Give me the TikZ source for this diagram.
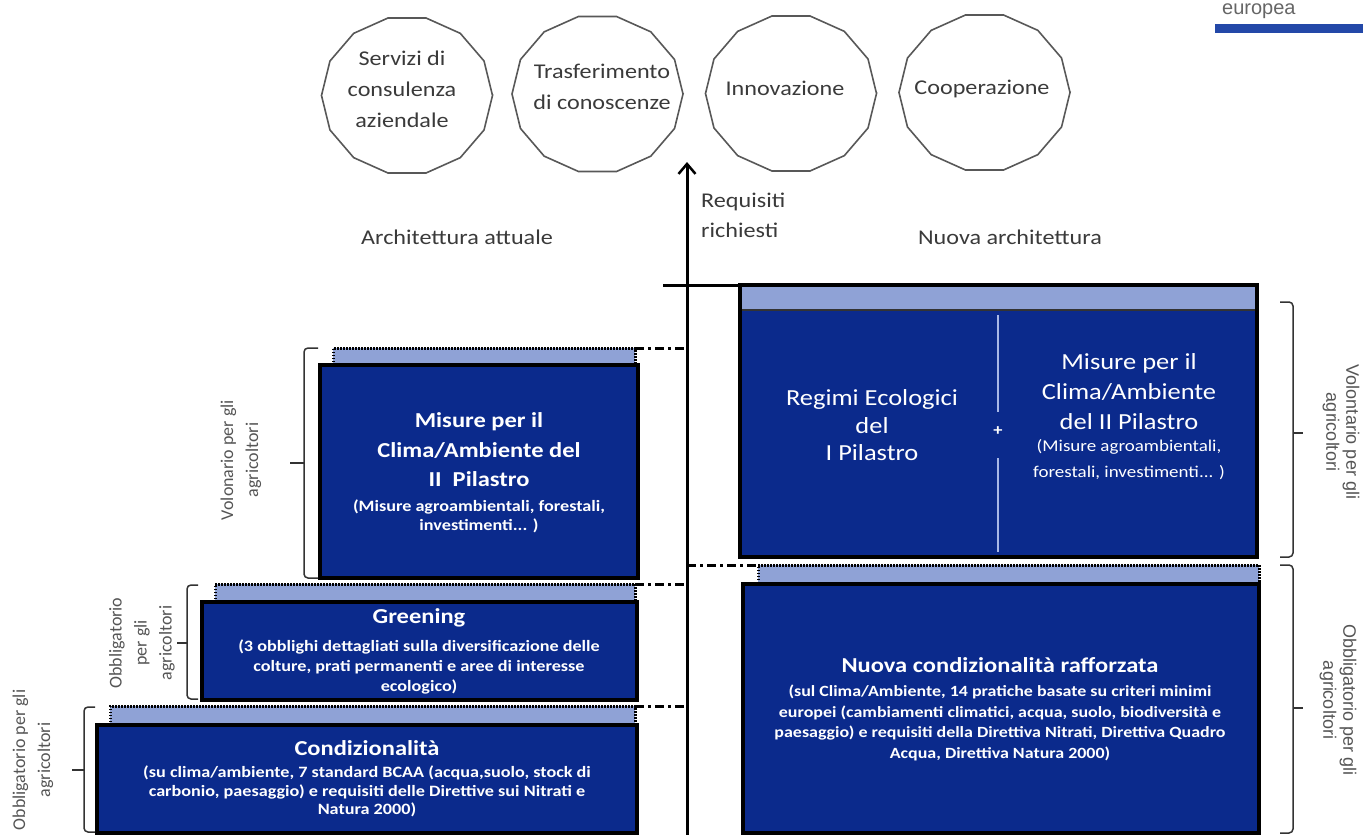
\documentclass[tikz,border=0pt]{standalone}
\usepackage{fontspec}
\setmainfont{Carlito}[FakeStretch=1.15]
\newfontfamily\plainc{Carlito}
\newfontfamily\arialf{Liberation Sans}
\usetikzlibrary{arrows.meta}
\definecolor{boxblue}{HTML}{0B2A8C}
\definecolor{stripblue}{HTML}{8FA2D6}
\definecolor{txtgray}{HTML}{3A3A3A}
\definecolor{lblgray}{HTML}{555555}
\definecolor{barblue}{HTML}{2348A8}
\definecolor{divblue}{HTML}{A9B8E6}
\begin{document}
\begin{tikzpicture}[x=1pt,y=-1pt,
  poly/.style={draw=txtgray!85, line width=1.6pt},
  polytext/.style={text=txtgray, align=center, inner sep=0, font=\fontsize{21}{31}\selectfont},
  lbl/.style={text=txtgray, inner sep=0, font=\fontsize{21}{30}\selectfont},
  darkbox/.style={draw=black, line width=3.5pt, fill=boxblue, inner sep=0, outer sep=0},
  strip/.style={fill=stripblue, inner sep=0, outer sep=0, draw=none},
  dotline/.style={line width=3pt, dash pattern=on 1.5pt off 1.5pt},
  dashdot/.style={line width=3pt, dash pattern=on 9pt off 4pt on 3pt off 4pt},
  brk/.style={draw=black!80, line width=1.5pt, rounded corners=4pt},
  ttl/.style={text=white, align=center, inner sep=0, font=\bfseries\fontsize{21.3}{29.5}\selectfont},
  sub/.style={text=white, align=center, inner sep=0, font=\bfseries\fontsize{15.8}{19}\selectfont},
  rotl/.style={text=lblgray, align=center, inner sep=0, font=\plainc\fontsize{18}{25}\selectfont},
  rotr/.style={text=lblgray, align=center, inner sep=0, font=\arialf\fontsize{18}{20}\selectfont},
]
\useasboundingbox (0,0) rectangle (1363,835);

% logo
\node[anchor=base west, inner sep=0, text=black!60, font=\arialf\fontsize{20}{20}\selectfont] (eu) at (1222,14) {europea};
\fill[barblue] (1215,24) rectangle (1363,33);

% polygons
\foreach \cx/\cy in {407/95.5, 597.5/94, 791/93.5, 984.5/92.5}
  \draw[poly] plot[samples=15, domain=0:360, variable=\t] ({\cx+85.5*cos(\t)},{\cy+79.5*sin(\t)}) -- cycle;
\node[polytext] (serv) at (402,89) {Servizi di\\consulenza\\aziendale};
\node[polytext] (tras) at (602,87) {Trasferimento\\di conoscenze};
\node[polytext] (inno) at (785,88) {Innovazione};
\node[polytext] (coop) at (982,89) {Cooperazione};

% arrow
\coordinate (abot) at (687,837);
\coordinate (atop) at (687,162);
\draw[line width=3pt, -{Straight Barb[length=10pt,width=17pt,line width=2.5pt]}] (abot) -- (atop);

% headings
\node[lbl] (arch) at (457,237) {Architettura attuale};
\node[lbl, anchor=west, align=left] (req) at (701,215) {Requisiti\\richiesti};
\node[lbl] (nuar) at (1010,237) {Nuova architettura};

% ---------- left: current architecture ----------
\node[strip, minimum width=302pt, minimum height=17pt] (misS) at (484,356.5) {};
\node[strip, minimum width=420pt, minimum height=18pt] (grS) at (425,593) {};
\node[strip, minimum width=525pt, minimum height=19pt] (coS) at (372.5,715.5) {};
\foreach \s in {misS,grS,coS}
  \draw[dotline] (\s.south west) -- (\s.north west) -- (\s.north east) -- (\s.south east);

\node[darkbox, minimum width=318pt, minimum height=213pt] (mis) at (479,471.5) {};
\node[darkbox, minimum width=435pt, minimum height=98pt] (gre) at (419.5,651) {};
\node[darkbox, minimum width=540pt, minimum height=108pt] (con) at (367,779) {};

\draw[dashdot] (misS.north east) -- (misS.north east -| abot);
\draw[dashdot] (grS.north east) -- (grS.north east -| abot);
\draw[dashdot] (coS.north east) -- (coS.north east -| abot);

\node[ttl] (misT) at (479,450) {Misure per il\\Clima/Ambiente del\\II\ \ Pilastro};
\node[sub] (misX) at (479,516) {(Misure agroambientali, forestali,\\investimenti... )};
\node[ttl] (greT) at (419,618) {Greening};
\node[sub, font=\bfseries\fontsize{15.8}{20}\selectfont] (greX) at (419,667) {(3 obblighi dettagliati sulla diversificazione delle\\colture, prati permanenti e aree di interesse\\ecologico)};
\node[ttl] (conT) at (367,748) {Condizionalità};
\node[sub, font=\bfseries\fontsize{15.8}{18.5}\selectfont] (conX) at (367,791.5) {(su clima/ambiente, 7 standard BCAA (acqua,suolo, stock di\\carbonio, paesaggio) e requisiti delle Direttive sui Nitrati e\\Natura 2000)};

% left brackets
\draw[brk] (318,348) -- (304,348) -- (304,578) -- (318,578);
\draw[brk] (304,463) -- (290,463);
\draw[brk] (198,585) -- (187,585) -- (187,699) -- (198,699);
\draw[brk] (187,643) -- (177,643);
\draw[brk] (95,707) -- (84,707) -- (84,832) -- (95,832);
\draw[brk] (84,770) -- (72,770);

\node[rotl, rotate=90] (misL) at (241,460) {Volonario per gli\\agricoltori};
\node[rotl, rotate=90] (greL) at (142,643) {Obbligatorio\\per gli\\agricoltori};
\node[rotl, rotate=90] (conL) at (33,760) {Obbligatorio per gli\\agricoltori};

% ---------- right: new architecture ----------
\node[darkbox, minimum width=517pt, minimum height=272pt] (rup) at (998.5,421) {};
\node[strip, minimum width=517pt, minimum height=25pt] (rupS) at (998.5,297.5) {};
\draw[line width=2pt, black!80] (rupS.south west) -- (rupS.south east);
\draw[line width=3.5pt] (rup.north west) rectangle (rup.south east);
\coordinate (hl) at (663,285);
\draw[line width=3pt] (hl) -- (rup.north west);

\node[strip, minimum width=501pt, minimum height=18pt] (nuS) at (1008.5,574) {};
\draw[dotline] (nuS.south west) -- (nuS.north west) -- (nuS.north east) -- (nuS.south east);
\node[darkbox, minimum width=516pt, minimum height=249pt] (nuo) at (1001,708.5) {};
\draw[dashdot] (nuS.north west -| abot) -- (nuS.north west);

% divider and plus
\coordinate (dv1) at (998,315);
\coordinate (dv2) at (998,412);
\coordinate (dv3) at (998,458);
\coordinate (dv4) at (998,552);
\draw[divblue, line width=1.5pt] (dv1) -- (dv2);
\draw[divblue, line width=1.5pt] (dv3) -- (dv4);
\node[text=white, inner sep=0, font=\bfseries\fontsize{16}{16}\selectfont] (plus) at (998,431) {+};

\node[text=white, align=center, inner sep=0, font=\fontsize{23}{27.5}\selectfont] (regT) at (872,425.5) {Regimi Ecologici\\del\\I Pilastro};
\node[text=white, align=center, inner sep=0, font=\fontsize{23}{30}\selectfont] (rmT) at (1129,392) {Misure per il\\Clima/Ambiente\\del II Pilastro};
\node[text=white, align=center, inner sep=0, font=\fontsize{16.5}{26}\selectfont] (rmX) at (1129,460) {(Misure agroambientali,\\forestali, investimenti... )};

\node[ttl] (nuoT) at (1000,665) {Nuova condizionalità rafforzata};
\node[sub, font=\bfseries\fontsize{15.6}{20.7}\selectfont] (nuoX) at (1000,723) {(sul Clima/Ambiente, 14 pratiche basate su criteri minimi\\europei (cambiamenti climatici, acqua, suolo, biodiversità e\\paesaggio) e requisiti della Direttiva Nitrati, Direttiva Quadro\\Acqua, Direttiva Natura 2000)};

% right brackets
\draw[brk] (1280,302) -- (1293,302) -- (1293,557) -- (1280,557);
\draw[brk] (1293,433) -- (1303,433);
\draw[brk] (1280,565) -- (1293,565) -- (1293,833) -- (1280,833);
\draw[brk] (1293,708) -- (1303,708);

\node[rotr, rotate=-90] (rupL) at (1341,432) {Volontario per gli\\agricoltori};
\node[rotr, rotate=-90] (nuoL) at (1338,700) {Obbligatorio per gli\\agricoltori};
\end{tikzpicture}
\end{document}
